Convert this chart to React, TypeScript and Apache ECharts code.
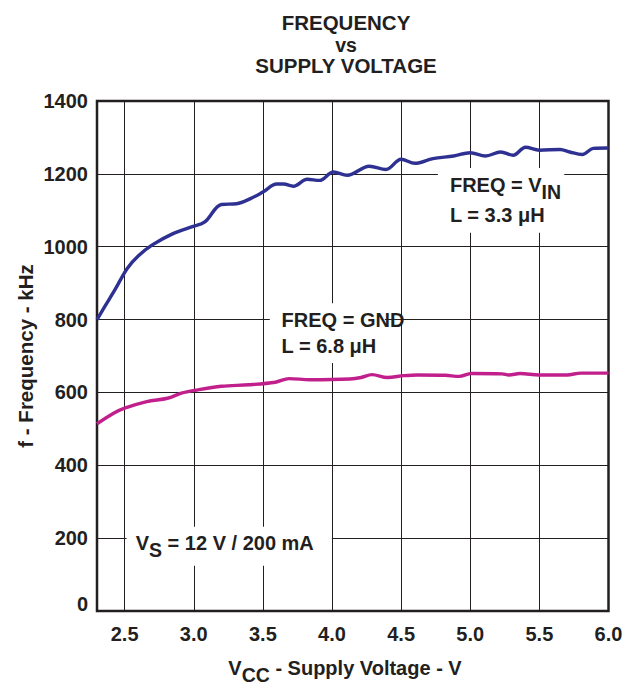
import React, { useEffect, useRef } from 'react';
import * as echarts from 'echarts';

// ---- data ----
const vinVoltage = [2.3, 2.36, 2.43, 2.52, 2.6, 2.7, 2.85, 2.99, 3.08, 3.2, 3.31, 3.41, 3.5, 3.6, 3.65, 3.72, 3.82, 3.91, 4.01, 4.11, 4.27, 4.39, 4.5, 4.6, 4.73, 4.88, 5.0, 5.11, 5.22, 5.31, 5.4, 5.5, 5.65, 5.72, 5.81, 5.89, 5.99, 6.0];
const vinFreq = [800, 838, 882, 941, 975, 1005, 1036, 1055, 1068, 1116, 1118, 1132, 1150, 1172, 1172, 1166, 1185, 1182, 1205, 1196, 1221, 1212, 1240, 1229, 1242, 1249, 1258, 1249, 1260, 1251, 1273, 1265, 1267, 1260, 1253, 1270, 1271, 1271];

const gndVoltage = [2.3, 2.42, 2.5, 2.66, 2.81, 2.91, 3.01, 3.2, 3.4, 3.59, 3.69, 3.84, 4.13, 4.21, 4.29, 4.4, 4.52, 4.62, 4.82, 4.92, 5.01, 5.23, 5.28, 5.36, 5.5, 5.7, 5.8, 5.99, 6.0];
const gndFreq = [514, 543, 557, 575, 584, 598, 606, 617, 621, 628, 638, 635, 637, 641, 649, 641, 646, 648, 647, 644, 652, 651, 648, 652, 648, 648, 653, 653, 653];

const xTickValues = [2.5, 3.0, 3.5, 4.0, 4.5, 5.0, 5.5, 6.0];
const xGridValues = [2.5, 3.0, 3.5, 4.0, 4.5, 5.0, 5.5];
const titleLines = ['FREQUENCY', 'vs', 'SUPPLY VOLTAGE'];
const yAxisTitle = 'f - Frequency - kHz';
const xAxisTitleParts: [string, boolean][] = [['V', false], ['CC', true], [' - Supply Voltage - V', false]];

// annotation boxes in data coordinates: [x0, y0, x1, y1]; lines anchored at (x, y)
const annotations = [
  {
    box: [4.766, 1216, 5.68, 1038],
    lines: [
      { x: 4.853, y: 1170, parts: [['FREQ = V', false], ['IN', true]] as [string, boolean][] },
      { x: 4.853, y: 1088, parts: [['L = 3.3 \u03bcH', false]] as [string, boolean][] },
    ],
  },
  {
    box: [3.55, 845, 4.383, 681],
    lines: [
      { x: 3.635, y: 800, parts: [['FREQ = GND', false]] as [string, boolean][] },
      { x: 3.635, y: 727, parts: [['L = 6.8 \u03bcH', false]] as [string, boolean][] },
    ],
  },
  {
    box: [2.514, 231, 3.999, 124],
    lines: [
      { x: 2.58, y: 188, parts: [['V', false], ['S', true], [' = 12 V / 200 mA', false]] as [string, boolean][] },
    ],
  },
];

const FONT = '"Liberation Sans", Arial, Helvetica, sans-serif';
const INK = '#231f20';
const MAIN_SIZE = 20;
const SUB_SIZE = 19.5;
const SUB_SHIFT = 7;

function measure(text: string, size: number): number {
  const ctx = document.createElement('canvas').getContext('2d')!;
  ctx.font = `bold ${size}px ${FONT}`;
  return ctx.measureText(text).width;
}

function partsWidth(parts: [string, boolean][]): number {
  return parts.reduce((s, [t, sub]) => s + measure(t, sub ? SUB_SIZE : MAIN_SIZE), 0);
}

function textRun(x0: number, y: number, parts: [string, boolean][], z = 101) {
  const els: any[] = [];
  let x = x0;
  for (const [t, sub] of parts) {
    const size = sub ? SUB_SIZE : MAIN_SIZE;
    els.push({
      type: 'text',
      x,
      y: y + (sub ? SUB_SHIFT : 0),
      z,
      silent: true,
      style: {
        text: t,
        font: `bold ${size}px ${FONT}`,
        fill: INK,
        textAlign: 'left',
        textVerticalAlign: 'middle',
        align: 'left',
        verticalAlign: 'middle',
      },
    });
    x += measure(t, size);
  }
  return els;
}

export default function App() {
  const ref = useRef<HTMLDivElement>(null);

  useEffect(() => {
    document.body.style.margin = '0';
    if (!ref.current) return;
    const chart = echarts.init(ref.current, undefined, { renderer: 'svg' });

    const labelStyle = { fontSize: MAIN_SIZE, fontWeight: 'bold' as const, fontFamily: FONT, color: INK };

    chart.setOption({
      animation: false,
      grid: {
        left: 97,
        right: 17.5,
        top: 101,
        bottom: 76,
        show: true,
        borderColor: INK,
        borderWidth: 2.5,
        containLabel: false,
        outerBoundsMode: 'none',
      },
      xAxis: {
        type: 'value',
        min: 2.3,
        max: 6.0,
        axisLine: { show: false },
        axisTick: { show: false },
        splitLine: { show: false },
        axisLabel: {
          ...labelStyle,
          margin: 13,
          customValues: xTickValues,
          formatter: (v: number) => v.toFixed(1),
        },
      },
      yAxis: {
        type: 'value',
        min: 0,
        max: 1400,
        interval: 200,
        axisLine: { show: false },
        axisTick: { show: false },
        splitLine: { show: true, lineStyle: { color: INK, width: 1 } },
        axisLabel: {
          ...labelStyle,
          margin: 9,
          formatter: (v: number) => (v === 0 ? '{lift|0}' : String(v)),
          rich: { lift: { ...labelStyle, padding: [0, 0, 14, 0] } },
        },
      },
      series: [
        {
          type: 'line',
          data: [],
          z: 1,
          silent: true,
          markLine: {
            silent: true,
            symbol: ['none', 'none'],
            label: { show: false },
            lineStyle: { color: INK, width: 1, type: 'solid' },
            emphasis: { disabled: true },
            data: xGridValues.map((v) => ({ xAxis: v })),
          },
        },
        {
          name: 'FREQ = VIN',
          type: 'line',
          data: vinVoltage.map((v, i) => [v, vinFreq[i]]),
          showSymbol: false,
          smooth: 0.35,
          z: 5,
          lineStyle: { color: '#2e3192', width: 3.4 },
        },
        {
          name: 'FREQ = GND',
          type: 'line',
          data: gndVoltage.map((v, i) => [v, gndFreq[i]]),
          showSymbol: false,
          smooth: 0.35,
          z: 5,
          lineStyle: { color: '#c1208c', width: 3.4 },
        },
      ],
    });

    const toPx = (x: number, y: number) => chart.convertToPixel({ gridIndex: 0 }, [x, y]) as number[];

    const graphics: any[] = [];
    for (const a of annotations) {
      const p0 = toPx(a.box[0], a.box[1]);
      const p1 = toPx(a.box[2], a.box[3]);
      graphics.push({
        type: 'rect',
        z: 100,
        silent: true,
        shape: { x: p0[0], y: p0[1], width: p1[0] - p0[0], height: p1[1] - p0[1] },
        style: { fill: '#ffffff' },
      });
      for (const l of a.lines) {
        const p = toPx(l.x, l.y);
        graphics.push(...textRun(p[0], p[1], l.parts));
      }
    }

    // title
    const titleY = [22, 44.5, 65.3];
    const titleSize = [20.5, 19.5, 20.5];
    titleLines.forEach((t, i) => {
      graphics.push({
        type: 'text',
        x: 346,
        y: titleY[i],
        z: 101,
        silent: true,
        style: {
          text: t,
          font: `bold ${titleSize[i]}px ${FONT}`,
          fill: INK,
          textAlign: 'center',
          textVerticalAlign: 'middle',
          align: 'center',
          verticalAlign: 'middle',
        },
      });
    });

    // x axis title
    const xw = partsWidth(xAxisTitleParts);
    graphics.push(...textRun(345 - xw / 2, 668, xAxisTitleParts));

    // y axis title
    graphics.push({
      type: 'text',
      x: 25,
      y: 356,
      rotation: Math.PI / 2,
      z: 101,
      silent: true,
      style: {
        text: yAxisTitle,
        font: `bold 20.5px ${FONT}`,
        fill: INK,
        textAlign: 'center',
        textVerticalAlign: 'middle',
        align: 'center',
        verticalAlign: 'middle',
      },
    });

    chart.setOption({ graphic: graphics });

    return () => chart.dispose();
  }, []);

  return <div ref={ref} style={{ width: 626, height: 687 }} />;
}
